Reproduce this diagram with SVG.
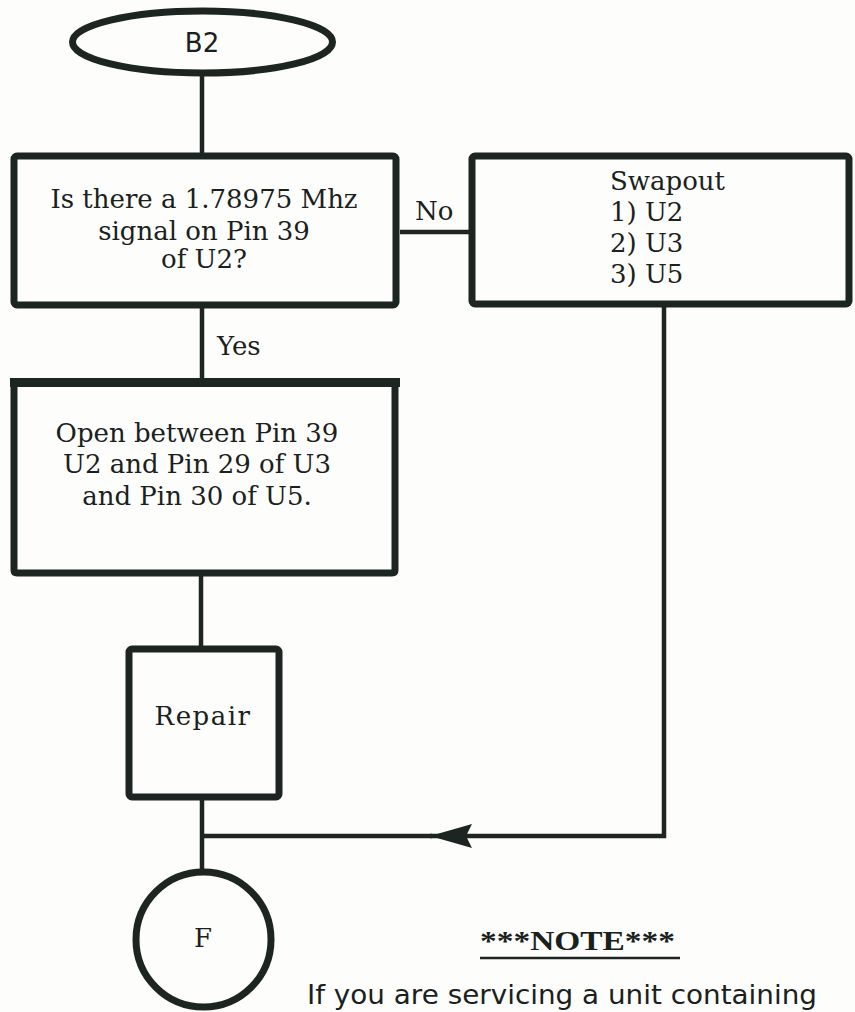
<svg xmlns="http://www.w3.org/2000/svg" width="855" height="1012" viewBox="0 0 855 1012">
<style>
.shape{fill:none;stroke:#1c2521;stroke-width:7;stroke-linejoin:round}
.line{fill:none;stroke:#1c2521;stroke-width:4.5}
.t{font-family:"DejaVu Serif",serif;font-size:26px;fill:#1a211d}
.c{text-anchor:middle}
.s{font-family:"DejaVu Sans",sans-serif;fill:#1a211d}
</style>
<defs>
<marker id="arr" markerUnits="userSpaceOnUse" markerWidth="46" markerHeight="30" refX="44" refY="15" orient="auto" viewBox="0 0 46 30">
<path d="M44,15 L2,3 L8,15 L2,27 Z" fill="#1c2521"/>
</marker>
</defs>
<rect width="855" height="1012" fill="#fdfdfc"/>
<g id="connectors">
<line class="line" x1="202" y1="73" x2="202" y2="156"/>
<line class="line" x1="400" y1="232" x2="472" y2="232"/>
<line class="line" x1="202" y1="305" x2="202" y2="382"/>
<line class="line" x1="201" y1="573" x2="201" y2="649"/>
<line class="line" x1="202" y1="797" x2="202" y2="872"/>
<polyline class="line" points="664,304 664,836 472,836"/>
<line class="line" x1="472" y1="836" x2="430" y2="836" marker-end="url(#arr)"/>
<line class="line" x1="432" y1="836" x2="202" y2="836"/>
<text class="t" x="415" y="220" font-size="24">No</text>
<text class="t" x="217" y="355" font-size="24">Yes</text>
</g>
<g id="start">
<ellipse class="shape" cx="202.5" cy="42" rx="130" ry="31" stroke-width="6"/>
<text class="s c" x="202" y="52" font-size="26">B2</text>
</g>
<g id="decision">
<rect class="shape" x="14" y="156" width="382" height="149" rx="3"/>
<text class="t c" x="204" y="208">Is there a 1.78975 Mhz</text>
<text class="t c" x="204" y="240">signal on Pin 39</text>
<text class="t c" x="204" y="268">of U2?</text>
</g>
<g id="swapout">
<rect class="shape" x="472" y="156" width="377" height="148" rx="3"/>
<text class="t" x="610" y="190" font-size="25">Swapout</text>
<text class="t" x="610" y="221" font-size="25">1) U2</text>
<text class="t" x="610" y="252" font-size="25">2) U3</text>
<text class="t" x="610" y="283" font-size="25">3) U5</text>
</g>
<g id="open">
<path class="shape" d="M14,382 L14,570 Q14,573 17,573 L392,573 Q395,573 395,570 L395,382"/>
<rect x="10" y="378" width="390" height="9" fill="#1c2521"/>
<text class="t c" x="197" y="442">Open between Pin 39</text>
<text class="t c" x="197" y="473">U2 and Pin 29 of U3</text>
<text class="t c" x="197" y="505">and Pin 30 of U5.</text>
</g>
<g id="repair">
<rect class="shape" x="129" y="649" width="150" height="148" rx="3"/>
<text class="t c" x="203" y="725" font-size="25" letter-spacing="1.5">Repair</text>
</g>
<g id="end">
<circle class="shape" cx="203.5" cy="939.5" r="67.5"/>
<text class="t c" x="203" y="947" font-size="25">F</text>
</g>
<g id="note">
<text x="480" y="950" font-family="'Liberation Serif',serif" font-weight="bold" font-size="27" fill="#1a211d" textLength="195" lengthAdjust="spacingAndGlyphs">***NOTE***</text>
<line x1="480" y1="958" x2="680" y2="958" stroke="#1c2521" stroke-width="2.5"/>
<text class="s" x="307" y="1004" font-size="27" textLength="510" lengthAdjust="spacingAndGlyphs">If you are servicing a unit containing</text>
</g>
</svg>
